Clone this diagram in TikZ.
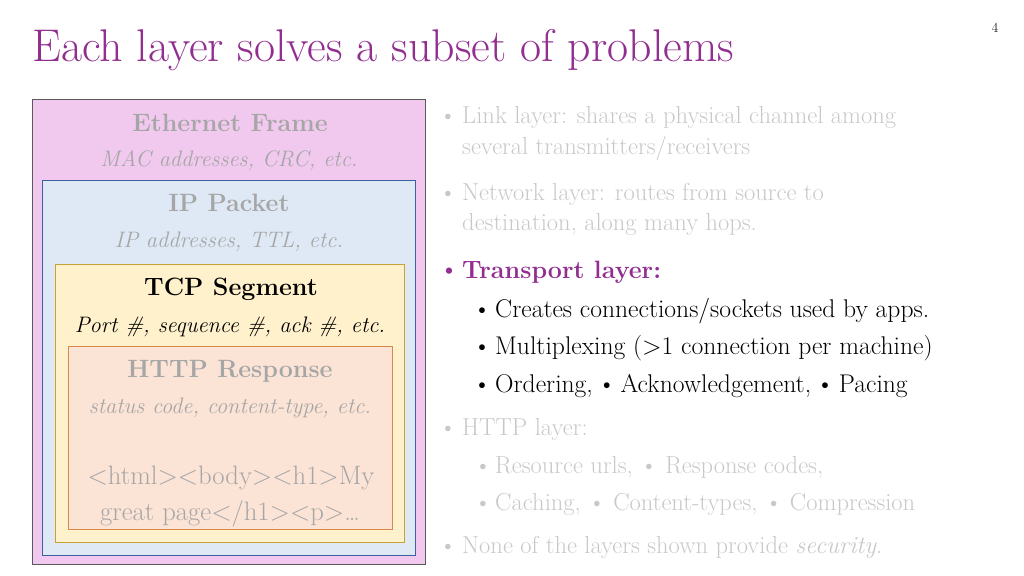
\documentclass[tikz,border=0pt]{standalone}
\usepackage{fontspec}
\definecolor{ttl}{HTML}{912E90}
\definecolor{ethfill}{HTML}{F1C9EF}
\definecolor{ethline}{HTML}{5A5A5A}
\definecolor{ipfill}{HTML}{DEE9F5}
\definecolor{ipline}{HTML}{3F5F9F}
\definecolor{tcpfill}{HTML}{FFF1CC}
\definecolor{tcpline}{HTML}{C9A235}
\definecolor{httpfill}{HTML}{FBE3D6}
\definecolor{httpline}{HTML}{D9884A}
\definecolor{boxgray}{HTML}{A6A6A6}
\definecolor{dim}{HTML}{C8C8C8}

\begin{document}
\begin{tikzpicture}[
  x=0.9375pt, y=-0.9375pt,
  frame/.style={line width=0.8pt},
  hd/.style={anchor=base, inner sep=0, font=\fontsize{23.5}{28}\selectfont\bfseries},
  sub/.style={anchor=base, inner sep=0, font=\fontsize{21}{25}\selectfont\itshape},
  code/.style={anchor=base, inner sep=0, font=\fontsize{25}{30}\selectfont, text=boxgray},
  itm/.style={anchor=base west, inner sep=0, font=\fontsize{23}{28}\selectfont, text=dim},
  subitm/.style={anchor=base west, inner sep=0, font=\fontsize{24}{29}\selectfont},
  dot/.style={anchor=base, inner sep=0, font=\fontsize{23}{28}\selectfont}]
\useasboundingbox (0,0) rectangle (1024,576);
% title and page number
\node[anchor=base west, inner sep=0, text=ttl, font=\fontsize{43}{50}\selectfont] (title) at (32,62) {Each layer solves a subset of problems};
\node[anchor=base, inner sep=0, text=black!85, font=\fontsize{13}{15}\selectfont] (page) at (995,33) {4};
% nested headers
\draw[frame, fill=ethfill, draw=ethline]   (32,99)  rectangle (425,564);
\draw[frame, fill=ipfill, draw=ipline]     (42,180) rectangle (415,555);
\draw[frame, fill=tcpfill, draw=tcpline]   (55,264) rectangle (404,542);
\draw[frame, fill=httpfill, draw=httpline] (68,346) rectangle (392,529);
\node[hd, text=boxgray]  (eth)   at (230,132) {Ethernet Frame};
\node[sub, text=boxgray] (ethx)  at (229,167) {MAC addresses, CRC, etc.};
\node[hd, text=boxgray]  (ip)    at (229,211) {IP Packet};
\node[sub, text=boxgray] (ipx)   at (229,247) {IP addresses, TTL, etc.};
\node[hd]                (tcp)   at (231,295) {TCP Segment};
\node[sub]               (tcpx)  at (230,332) {Port \#, sequence \#, ack \#, etc.};
\node[hd, text=boxgray]  (http)  at (230,377) {HTTP Response};
\node[sub, text=boxgray] (httpx) at (230,413) {status code, content-type, etc.};
\node[code] (body1) at (231,484) {<html><body><h1>My};
\node[code] (body2) at (230,520) {great page</h1><p>…};
% bullet list
\node[dot, text=dim]  (b1) at (448,124) {•};
\node[itm] (link)  at (462,124) {Link layer: shares a physical channel among};
\node[itm] (link2) at (462,155) {several transmitters/receivers};
\node[dot, text=dim]  (b2) at (448,200) {•};
\node[itm] (net)   at (462,200) {Network layer: routes from source to};
\node[itm] (net2)  at (462,230) {destination, along many hops.};
\node[dot, text=ttl, font=\fontsize{26}{30}\selectfont] (b3) at (449,278) {•};
\node[anchor=base west, inner sep=0, text=ttl, font=\fontsize{23.5}{28}\selectfont\bfseries] (tr) at (462,278) {Transport layer:};
\node[dot, font=\fontsize{24}{29}\selectfont] (b31) at (482,317) {•};
\node[subitm] (conn) at (495,317) {Creates connections/sockets used by apps.};
\node[dot, font=\fontsize{24}{29}\selectfont] (b32) at (482,354) {•};
\node[subitm] (mux)  at (495,354) {Multiplexing (>1 connection per machine)};
\node[dot, font=\fontsize{24}{29}\selectfont] (b33) at (482,392) {•};
\node[subitm] (ord)  at (495,392) {Ordering,\hspace{-0.12em} • \hspace{-0.12em}Acknowledgement,\hspace{-0.12em} • \hspace{-0.12em}Pacing};
\node[dot, text=dim] (b4) at (448,435) {•};
\node[itm] (hl) at (462,435) {HTTP layer:};
\node[dot, text=dim] (b41) at (483,473) {•};
\node[subitm, text=dim, font=\fontsize{23}{28}\selectfont] (res) at (495,473) {Resource urls, • Response codes,};
\node[dot, text=dim] (b42) at (483,510) {•};
\node[subitm, text=dim, font=\fontsize{23}{28}\selectfont] (cach) at (495,510) {Caching, • Content-types, • Compression};
\node[dot, text=dim] (b5) at (448,553) {•};
\node[itm] (none) at (462,553) {None of the layers shown provide \textit{security}.};
\end{tikzpicture}
\end{document}
